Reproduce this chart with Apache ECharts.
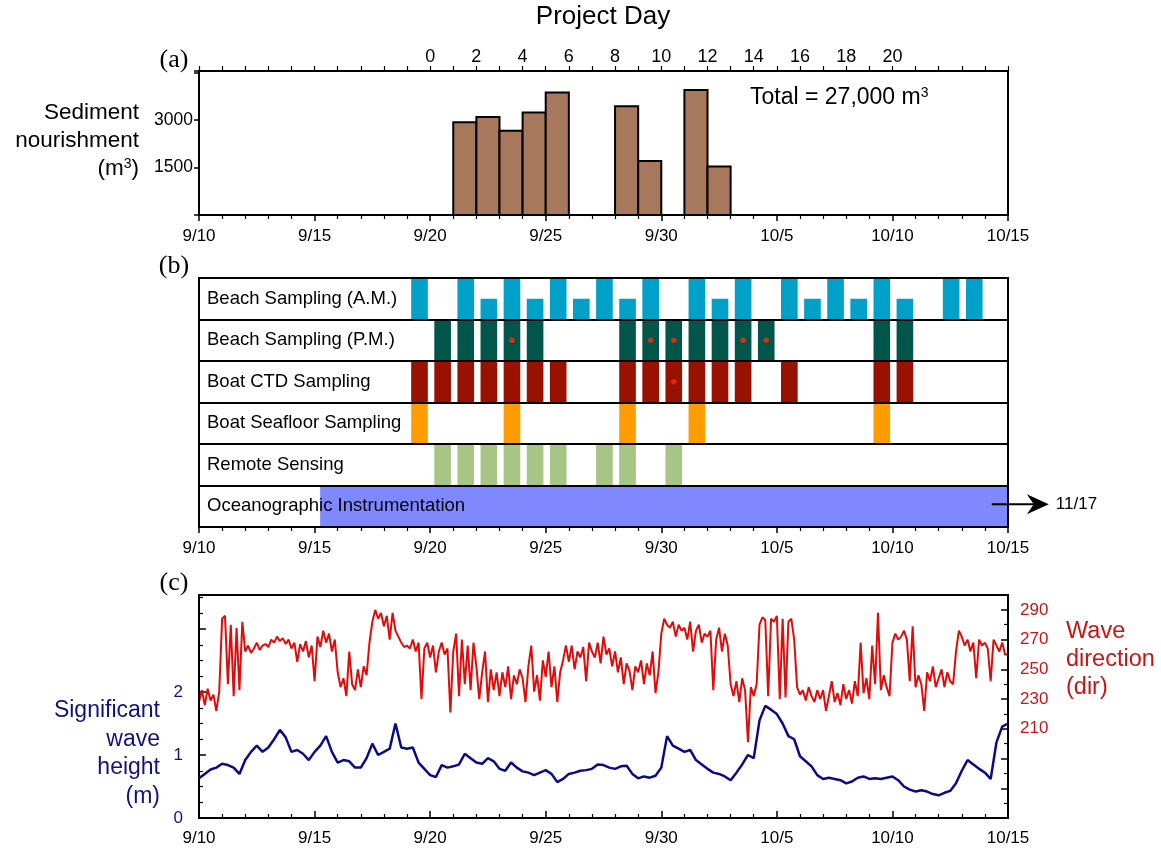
<!DOCTYPE html>
<html>
<head>
<meta charset="utf-8">
<script src="https://cdn.jsdelivr.net/npm/echarts@6/dist/echarts.min.js"></script>
<style>
  html, body { margin: 0; padding: 0; background: #fff; }
  #chart { width: 1161px; height: 849px; }
</style>
</head>
<body>
<div id="chart"></div>
<script>
// x positions are days after 9/10 00:00
const dateTicks = ["9/10", "9/15", "9/20", "9/25", "9/30", "10/5", "10/10", "10/15"];
const projectDays = [0, 2, 4, 6, 8, 10, 12, 14, 16, 18, 20];
const projectDayZero = 10; // project day 0 = 9/20

// (a) daily nourishment volume, m3
const nourishDays = [11, 12, 13, 14, 15, 18, 19, 21, 22];
const nourishVolume = [2930, 3100, 2660, 3240, 3870, 3440, 1710, 3950, 1530];

// (b) sampling schedule
const rowNames = [
  "Beach Sampling (A.M.)",
  "Beach Sampling (P.M.)",
  "Boat CTD Sampling",
  "Boat Seafloor Sampling",
  "Remote Sensing",
  "Oceanographic Instrumentation",
];
const amFullDays = [9, 11, 13, 15, 17, 19, 21, 23, 25, 27, 29, 32, 33];
const amShortDays = [12, 14, 16, 18, 22, 26, 28, 30];
const pmDays = [10, 11, 12, 13, 14, 18, 19, 20, 21, 22, 23, 24, 29, 30];
const pmDotDays = [13, 19, 20, 23, 24];
const ctdDays = [9, 10, 11, 12, 13, 14, 15, 18, 19, 20, 21, 22, 23, 25, 29, 30];
const ctdDotDays = [20];
const seafloorDays = [9, 13, 18, 21, 29];
const remoteDays = [10, 11, 12, 13, 14, 15, 17, 18, 20];
const oceanStart = 5.24;
const oceanEnd = 35;
const oceanEndLabel = "11/17";

// (c) significant wave height (m), every 6 h from 9/10
const waveStep = 0.25;
const waveHeight = [
  0.63, 0.70, 0.77, 0.80, 0.86, 0.84, 0.80, 0.70, 0.92, 1.05, 1.15, 1.05,
  1.12, 1.25, 1.40, 1.28, 1.05, 1.08, 1.02, 0.92, 1.05, 1.15, 1.30, 1.05,
  0.88, 0.92, 0.90, 0.80, 0.80, 0.95, 1.18, 1.00, 1.05, 1.10, 1.50, 1.12,
  1.10, 1.12, 0.88, 0.78, 0.68, 0.65, 0.84, 0.80, 0.82, 0.85, 1.02, 0.95,
  0.88, 0.86, 0.95, 0.90, 0.78, 0.75, 0.88, 0.80, 0.74, 0.72, 0.68, 0.72,
  0.76, 0.70, 0.57, 0.62, 0.70, 0.72, 0.75, 0.76, 0.78, 0.85, 0.84, 0.80,
  0.78, 0.82, 0.83, 0.70, 0.63, 0.66, 0.64, 0.67, 0.80, 1.30, 1.15, 1.10,
  1.05, 1.08, 0.92, 0.85, 0.78, 0.72, 0.70, 0.66, 0.60, 0.72, 0.85, 1.00,
  0.95, 1.55, 1.78, 1.72, 1.65, 1.50, 1.30, 1.25, 0.98, 0.90, 0.82, 0.68,
  0.62, 0.64, 0.62, 0.60, 0.55, 0.58, 0.64, 0.66, 0.62, 0.63, 0.62, 0.64,
  0.66, 0.60, 0.50, 0.45, 0.42, 0.44, 0.42, 0.38, 0.36, 0.40, 0.43, 0.55,
  0.75, 0.92, 0.85, 0.78, 0.72, 0.62, 1.20, 1.45, 1.50,
];

// (c) wave direction (deg), every 3 h from 9/10
const dirStep = 0.125;
const waveDir = [
  228, 236, 226, 237, 229, 233, 222, 235,
  284, 286, 240, 280, 232, 278, 236, 282,
  262, 266, 261, 264, 268, 263, 266, 267,
  265, 270, 268, 272, 269, 271, 267, 270,
  264, 268, 255, 267, 262, 269, 258, 266,
  242, 272, 265, 276, 268, 274, 262, 270,
  248, 238, 244, 232, 262, 240, 236, 250,
  238, 252, 246, 268, 282, 290, 284, 288,
  279, 286, 270, 288, 276, 272, 268, 265,
  266, 264, 270, 262, 268, 230, 264, 268,
  258, 266, 248, 262, 268, 260, 264, 221,
  262, 274, 232, 270, 240, 266, 236, 268,
  252, 230, 248, 262, 228, 250, 236, 248,
  232, 248, 238, 252, 230, 246, 240, 250,
  244, 228, 252, 266, 235, 246, 229, 256,
  245, 262, 238, 252, 228, 248, 256, 266,
  255, 266, 250, 262, 258, 265, 242, 268,
  262, 258, 268, 254, 272, 260, 264, 252,
  262, 248, 258, 240, 254, 249, 236, 252,
  248, 256, 240, 254, 246, 262, 234, 248,
  274, 284, 280, 278, 282, 272, 280, 276,
  278, 270, 282, 262, 276, 280, 268, 274,
  272, 276, 236, 270, 278, 262, 274, 266,
  240, 232, 242, 228, 244, 236, 201, 238,
  232, 240, 280, 285, 283, 232, 284, 282,
  286, 230, 284, 231, 282, 284, 270, 238,
  233, 236, 229, 238, 232, 228, 236, 230,
  236, 222, 232, 242, 228, 234, 226, 240,
  230, 236, 227, 242, 232, 268, 234, 244,
  230, 266, 240, 288, 236, 246, 238, 232,
  268, 274, 270, 272, 276, 270, 242, 279,
  238, 246, 240, 222, 248, 242, 252, 238,
  244, 250, 238, 248, 242, 240, 262, 276,
  272, 266, 270, 262, 268, 244, 270, 266,
  268, 264, 242, 270, 266, 262, 268, 260,
  260,
];

const FONT = "Liberation Sans, Arial, Helvetica, sans-serif";
const SERIF = "Liberation Serif, Times New Roman, serif";
const NAVY = "#12127e";
const RED = "#c81414";
const rowColors = ["#00a1c9", "#00564a", "#991200", "#ff9d00", "#a7c584", "#8088ff"];

function dateLabel(v) {
  const i = Math.round(v / 5);
  return Math.abs(v - i * 5) < 1e-6 ? dateTicks[i] || "" : "";
}

function dayBars(days, row, frac) {
  return days.map((d) => [d + 0.18, d + 0.9, row, frac]);
}

const activityData = [].concat(
  dayBars(amFullDays, 0, 1),
  dayBars(amShortDays, 0, 0.5),
  dayBars(pmDays, 1, 1),
  dayBars(ctdDays, 2, 1),
  dayBars(seafloorDays, 3, 1),
  dayBars(remoteDays, 4, 1),
  [[oceanStart, oceanEnd, 5, 1]]
);

const dotData = [].concat(
  pmDotDays.map((d) => [d + 0.54, 1]),
  ctdDotDays.map((d) => [d + 0.54, 2])
);

const dateAxisBase = {
  type: "value", min: 0, max: 35, interval: 5,
  axisLine: { show: true, lineStyle: { color: "#000", width: 2 } },
  axisLabel: { formatter: dateLabel, color: "#000", fontSize: 17, fontFamily: FONT, margin: 13 },
  axisTick: { show: true, length: 6, lineStyle: { color: "#000", width: 1.5 } },
  minorTick: { show: true, splitNumber: 5, length: 4, lineStyle: { color: "#000", width: 1.2 } },
  splitLine: { show: false },
};

const gridBox = { show: true, borderColor: "#000", borderWidth: 2, backgroundColor: "transparent", z: 3 };

// text with a superscript "3"
function supText(x, y, parts, size, color, align) {
  return {
    type: "text", x: x, y: y,
    style: {
      text: parts, fill: color, font: size + "px " + FONT,
      textAlign: align, textVerticalAlign: "middle",
      rich: {
        sup: { fontSize: Math.round(size * 0.62), fontFamily: FONT, verticalAlign: "top", fill: color, padding: [0, 0, 9, 0] },
      },
    },
  };
}

function label(x, y, text, size, color, align, family) {
  return {
    type: "text", x: x, y: y,
    style: { text: text, fill: color, font: size + "px " + (family || FONT), textAlign: align, textVerticalAlign: "middle" },
  };
}

const chart = echarts.init(document.getElementById("chart"));

chart.setOption({
  animation: false,
  backgroundColor: "#fff",
  grid: [
    Object.assign({ left: 199, top: 71, width: 809, height: 144 }, gridBox),
    Object.assign({ left: 199, top: 278, width: 809, height: 249 }, gridBox),
    Object.assign({ left: 199, top: 595, width: 809, height: 223 }, gridBox),
  ],
  xAxis: [
    Object.assign({}, dateAxisBase, { gridIndex: 0 }),
    {
      type: "value", gridIndex: 0, position: "top", min: 0, max: 35, interval: 1,
      axisLine: { show: true, lineStyle: { color: "#000", width: 2 } },
      axisTick: { show: true, length: 5, lineStyle: { color: "#000", width: 1.2 } },
      axisLabel: {
        color: "#000", fontSize: 18, fontFamily: FONT, margin: 5,
        formatter: (v) => {
          const p = Math.round(v) - projectDayZero;
          return projectDays.includes(p) ? String(p) : "";
        },
      },
      splitLine: { show: false },
    },
    Object.assign({}, dateAxisBase, { gridIndex: 1 }),
    Object.assign({}, dateAxisBase, {
      gridIndex: 2,
      axisLabel: Object.assign({}, dateAxisBase.axisLabel, { margin: 12 }),
      axisTick: { show: true, inside: true, length: 7, lineStyle: { color: "#000", width: 1.5 } },
      minorTick: { show: true, inside: true, splitNumber: 5, length: 4, lineStyle: { color: "#000", width: 1.2 } },
    }),
  ],
  yAxis: [
    {
      type: "value", gridIndex: 0, min: 0, max: 4550, interval: 1500,
      axisLine: { show: true, lineStyle: { color: "#000", width: 2 } },
      axisTick: { show: true, length: 5, lineStyle: { color: "#000", width: 1.5 } },
      axisLabel: {
        color: "#000", fontSize: 17.5, fontFamily: FONT, margin: 6,
        formatter: (v) => (v === 1500 || v === 3000 ? String(v) : ""),
      },
      splitLine: { show: false },
    },
    {
      type: "category", gridIndex: 1, data: rowNames, inverse: true, z: 4,
      axisLine: { show: true, lineStyle: { color: "#000", width: 2 } },
      axisTick: { show: false },
      axisLabel: { inside: true, color: "#000", fontSize: 18.5, fontFamily: FONT, margin: 8, align: "left" },
      splitLine: { show: true, interval: 0, lineStyle: { color: "#000", width: 2 } },
    },
    {
      type: "value", gridIndex: 2, min: 0, max: 3.54, interval: 1,
      axisLine: { show: true, lineStyle: { color: "#000", width: 2 } },
      axisTick: { show: true, inside: true, length: 7, lineStyle: { color: "#000", width: 1.5 } },
      minorTick: { show: true, splitNumber: 4, length: 4, lineStyle: { color: "#000", width: 1.2 } },
      axisLabel: {
        color: NAVY, fontSize: 17, fontFamily: FONT, margin: 16,
        formatter: (v) => (v <= 2 && Math.abs(v - Math.round(v)) < 1e-6 ? String(Math.round(v)) : ""),
      },
      splitLine: { show: false },
    },
    {
      type: "value", gridIndex: 2, position: "right", min: 150, max: 300, interval: 20,
      axisLine: { show: true, lineStyle: { color: "#000", width: 2 } },
      axisTick: { show: true, inside: true, length: 7, lineStyle: { color: "#000", width: 1.5 } },
      minorTick: { show: true, splitNumber: 2, length: 4, lineStyle: { color: "#000", width: 1.2 } },
      axisLabel: {
        color: RED, fontSize: 17, fontFamily: FONT, margin: 12,
        formatter: (v) => (v >= 210 && v <= 290 ? String(v) : ""),
      },
      splitLine: { show: false },
    },
  ],
  series: [
    {
      type: "custom", xAxisIndex: 0, yAxisIndex: 0, z: 2,
      data: nourishDays.map((d, i) => [d, nourishVolume[i]]),
      encode: { x: 0, y: 1 },
      renderItem: (params, api) => {
        const d = api.value(0);
        const p0 = api.coord([d, 0]);
        const p1 = api.coord([d + 1, api.value(1)]);
        return {
          type: "rect",
          shape: { x: p0[0], y: p1[1], width: p1[0] - p0[0], height: p0[1] - p1[1] },
          style: { fill: "#a8785c", stroke: "#000", lineWidth: 2 },
        };
      },
    },
    {
      type: "custom", xAxisIndex: 2, yAxisIndex: 1, z: 2,
      data: activityData,
      encode: { x: [0, 1], y: 2 },
      renderItem: (params, api) => {
        const row = api.value(2);
        const frac = api.value(3);
        const a = api.coord([api.value(0), row]);
        const b = api.coord([api.value(1), row]);
        const bh = api.size([0, 1])[1];
        const top = a[1] - bh / 2 + (1 - frac) * bh;
        return {
          type: "rect",
          shape: { x: a[0], y: top, width: b[0] - a[0], height: bh * frac },
          style: { fill: rowColors[row] },
        };
      },
    },
    {
      type: "scatter", xAxisIndex: 2, yAxisIndex: 1, z: 5,
      data: dotData, symbolSize: 5.5,
      itemStyle: { color: "#ff2a00" },
    },
    {
      type: "custom", xAxisIndex: 2, yAxisIndex: 1, z: 6, clip: false,
      data: [[34.3, 5]],
      encode: { x: 0, y: 1 },
      renderItem: (params, api) => {
        const p = api.coord([api.value(0), api.value(1)]);
        const y = p[1] - 2;
        const tip = p[0] + 57;
        return {
          type: "group",
          children: [
            { type: "line", shape: { x1: p[0], y1: y, x2: tip - 12, y2: y }, style: { stroke: "#000", lineWidth: 2 } },
            {
              type: "polygon",
              shape: { points: [[tip, y], [tip - 22, y - 10], [tip - 15, y], [tip - 22, y + 10]] },
              style: { fill: "#000" },
            },
            {
              type: "text",
              style: {
                x: tip + 7, y: y, text: oceanEndLabel, fill: "#000",
                font: "17px " + FONT, textAlign: "left", textVerticalAlign: "middle",
              },
            },
          ],
        };
      },
    },
    {
      type: "line", xAxisIndex: 3, yAxisIndex: 3, z: 2,
      data: waveDir.map((v, i) => [i * dirStep, v]),
      showSymbol: false, symbol: "none",
      lineStyle: { color: "#e00c0c", width: 2 },
    },
    {
      type: "line", xAxisIndex: 3, yAxisIndex: 2, z: 3,
      data: waveHeight.map((v, i) => [i * waveStep, v]),
      showSymbol: false, symbol: "none",
      lineStyle: { color: "#0b0b85", width: 2.5 },
    },
  ],
  graphic: [
    label(603, 17, "Project Day", 26, "#000", "center"),
    label(174, 60, "(a)", 26, "#000", "center", SERIF),
    label(174, 266, "(b)", 26, "#000", "center", SERIF),
    label(174, 583, "(c)", 26, "#000", "center", SERIF),
    label(139, 113, "Sediment", 22.5, "#000", "right"),
    label(139, 141, "nourishment", 22.5, "#000", "right"),
    supText(139, 169, "(m{sup|3})", 22.5, "#000", "right"),
    supText(750, 98, "Total = 27,000 m{sup|3}", 23, "#000", "left"),
    label(160, 711, "Significant", 23, NAVY, "right"),
    label(160, 740, "wave", 23, NAVY, "right"),
    label(160, 768, "height", 23, NAVY, "right"),
    label(160, 797, "(m)", 23, NAVY, "right"),
    label(1066, 632, "Wave", 23.5, RED, "left"),
    label(1066, 660, "direction", 23.5, RED, "left"),
    label(1066, 688, "(dir)", 23.5, RED, "left"),
  ],
});
</script>
</body>
</html>
